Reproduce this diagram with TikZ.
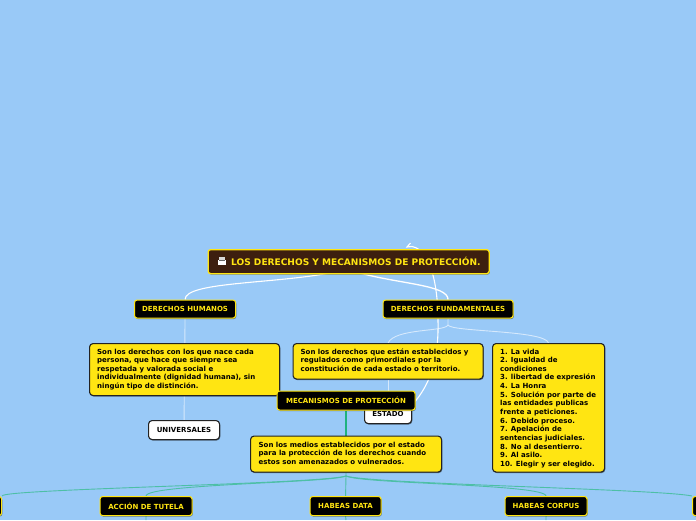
\documentclass[tikz,border=0pt]{standalone}
\usepackage{fontspec}
\setmainfont{DejaVu Sans}
\usetikzlibrary{calc,shadows}
\definecolor{bgblue}{HTML}{99C9F7}
\definecolor{rootbrown}{HTML}{3D1F0F}
\definecolor{ylw}{HTML}{FFE512}
\definecolor{grn}{HTML}{1FB27F}
\definecolor{tealine}{HTML}{4DBFA6}
\definecolor{dark}{HTML}{222222}
\tikzset{
 x=1pt,y=-1pt,
 lbl/.style={font=\bfseries\fontsize{7}{8.65}\selectfont},
 shad/.style={general shadow={fill=black,fill opacity=.45,shadow xshift=.7pt,shadow yshift=-1pt}},
 topic/.style={draw=ylw,line width=1.1pt,fill=black,text=ylw,rounded corners=2.5pt,anchor=north west,inner sep=0pt,align=center,lbl,shad},
 note/.style={draw=dark,line width=1.1pt,fill=ylw,text=black,rounded corners=3.5pt,anchor=north west,inner sep=0pt,align=left,lbl,shad},
 whitebox/.style={draw=dark,line width=1.1pt,fill=white,text=black,rounded corners=3.5pt,anchor=north west,inner sep=0pt,align=center,lbl,shad},
 bodytext/.style={anchor=north west,inner sep=0pt,align=left,text=black,lbl},
 wline/.style={draw=white,line width=1.1pt},
 paleline/.style={draw=white!60!bgblue,line width=.9pt},
 gline/.style={draw=tealine,line width=.9pt},
}
\begin{document}
\begin{tikzpicture}
\useasboundingbox (0,0) rectangle (696,520);
\fill[bgblue] (0,0) rectangle (696,520);
% named free ends
\coordinate (rootL) at (330,273);
\coordinate (rootR) at (360,273);
\coordinate (loopA) at (407,247);
\coordinate (hub) at (346,476);
\coordinate (dfHub) at (448,325);
\pgfdeclarelayer{front}\pgfsetlayers{main,front}
\begin{pgfonlayer}{front}
\node[note,minimum width=190pt,minimum height=52pt] (n1) at (89,343) {};
\node[bodytext] (n1t) at (97,348.5) {Son los derechos con los que nace cada\\persona, que hace que siempre sea\\respetada y valorada social e\\individualmente (dignidad humana), sin\\ningún tipo de distinción.};
\node[note,minimum width=190pt,minimum height=35.5pt] (n2) at (292.5,343) {};
\node[bodytext] (n2t) at (300.5,348.5) {Son los derechos que están establecidos y\\regulados como primordiales por la\\constitución de cada estado o territorio.};
\node[note,minimum width=112pt,minimum height=128.5pt] (n3) at (492,343) {};
\node[bodytext] (n3t) at (500,348.5) {1. La vida\\2. Igualdad de\\condiciones\\3. libertad de expresión\\4. La Honra\\5. Solución por parte de\\las entidades publicas\\frente a peticiones.\\6. Debido proceso.\\7. Apelación de\\sentencias judiciales.\\8. No al desentierro.\\9. Al asilo.\\10. Elegir y ser elegido.};
\node[topic,fill=rootbrown,line width=1.3pt,minimum width=281pt,minimum height=24pt] (root) at (207.5,249) {};
\node[anchor=west,inner sep=0pt,text=ylw,font=\bfseries\fontsize{9.05}{10}\selectfont] (roott) at (231,261.5) {LOS DERECHOS Y MECANISMOS DE PROTECCIÓN.};
\fill[white!85!black] (219,256.5) rectangle (225,259.5);
\fill[white] (218,259.5) rectangle (226,265);
\fill[black!60] (219,260) rectangle (225,261);
\node[topic,minimum width=101pt,minimum height=18pt] (dh) at (134,299.5) {DERECHOS HUMANOS};
\node[topic,minimum width=130pt,minimum height=18pt] (df) at (382.5,299.5) {DERECHOS FUNDAMENTALES};
\node[whitebox,minimum width=71pt,minimum height=19pt] (uni) at (148,420) {UNIVERSALES};
\node[whitebox,minimum width=47pt,minimum height=18pt] (est) at (364,405) {};
\node[anchor=center,inner sep=0pt,lbl,text=black] (estt) at (388,413.5) {ESTADO};
\node[topic,minimum width=138pt,minimum height=19pt] (mec) at (276.5,390.5) {MECANISMOS DE PROTECCIÓN};
\node[note,minimum width=191pt,minimum height=36pt] (n4) at (250,435.5) {};
\node[bodytext] (n4t) at (258.5,441.5) {Son los medios establecidos por el estado\\para la protección de los derechos cuando\\estos son amenazados o vulnerados.};
\node[topic,minimum width=92pt,minimum height=19pt] (tut) at (99.5,496) {ACCIÓN DE TUTELA};
\node[topic,minimum width=71pt,minimum height=19pt] (dat) at (309.5,496) {HABEAS DATA};
\node[topic,minimum width=82pt,minimum height=19pt] (cor) at (504.5,496) {HABEAS CORPUS};
\node[topic,minimum width=12pt,minimum height=19pt] (lft) at (-11,496) {};
\node[topic,minimum width=12pt,minimum height=19pt] (rgt) at (692,496) {};
\end{pgfonlayer}
% connectors
\draw[wline] (rootL) .. controls (270,284) and (185,282) .. (dh.north);
\draw[wline,line width=1.3pt] (rootR) .. controls (400,284) and (448,285) .. (df.north);
\draw[paleline] (dh.south) -- (uni.north);
\draw[paleline] (df.south) -- (dfHub);
\draw[paleline] (dfHub) .. controls (445,332) and (395,328) .. (n2.north);
\draw[paleline] (dfHub) .. controls (451,332) and (545,330) .. (n3.north);
\draw[paleline] (n2.south) -- (est.north);
\draw[wline] (est.north east) .. controls (430,385) and (439,360) .. (438,320)
  .. controls (438,290) and (432,250) .. (412,246.5) -- (loopA) -- (410.5,243);
\draw[grn,line width=1.8pt] (mec.south) -- (n4.north);
\draw[gline] (n4.south) -- (hub);
\draw[gline] (hub) .. controls (320,484) and (0,489) .. (lft.north east);
\draw[gline] (hub) .. controls (330,483) and (146,484) .. (tut.north);
\draw[gline] (hub) -- (dat.north);
\draw[gline] (hub) .. controls (362,484) and (545,484) .. (cor.north);
\draw[gline] (hub) .. controls (372,484) and (660,489) .. (rgt.north west);
\coordinate (tutEnd) at (146,520);
\coordinate (datEnd) at (346,520);
\coordinate (corEnd) at (546,520);
\draw[gline] (tut.south) -- (tutEnd);
\draw[gline] (dat.south) -- (datEnd);
\draw[gline] (cor.south) -- (corEnd);
\end{tikzpicture}
\end{document}
